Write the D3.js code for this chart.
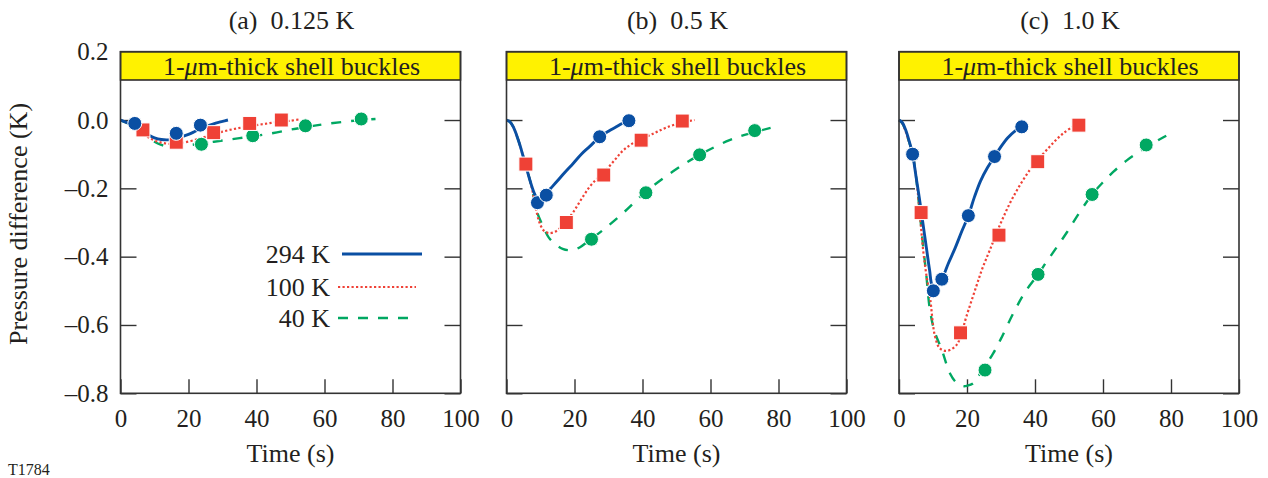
<!DOCTYPE html>
<html>
<head>
<meta charset="utf-8">
<script src="https://cdn.jsdelivr.net/npm/d3@7/dist/d3.min.js"></script>
<style>
  html, body { margin: 0; padding: 0; background: #fff; }
  svg { display: block; font-family: "Liberation Serif", "Times New Roman", serif; }
  text { fill: #231f20; }
</style>
</head>
<body>
<svg id="chart" width="1268" height="478"></svg>
<script>
// ---- Axis ticks and labels ----
const xTicks = [0, 20, 40, 60, 80, 100];
const yTicks = [0.2, 0.0, -0.2, -0.4, -0.6, -0.8];
const panelTitles = ["(a)  0.125 K", "(b)  0.5 K", "(c)  1.0 K"];
const seriesNames = ["294 K", "100 K", "40 K"];

// ---- (a) 0.125 K : model curves and measured points ----
const a294LineX = [0, 2, 4, 6, 8, 10, 12, 14, 16, 18, 20, 22, 24, 26, 28, 30, 31.6];
const a294LineY = [0, -0.008, -0.018, -0.03, -0.042, -0.052, -0.057, -0.058, -0.055, -0.049, -0.042, -0.033, -0.024, -0.016, -0.009, -0.004, 0.0];
const a294PtsX = [4.2, 16.4, 23.5];
const a294PtsY = [-0.01, -0.039, -0.015];

const a100LineX = [0, 3, 6, 9, 12, 15, 18, 22, 26, 30, 34, 38, 42, 46, 50, 52.7];
const a100LineY = [0, -0.014, -0.035, -0.055, -0.066, -0.07, -0.067, -0.058, -0.046, -0.034, -0.025, -0.018, -0.012, -0.006, -0.002, 0.002];
const a100PtsX = [6.6, 16.4, 27.4, 38, 47.3];
const a100PtsY = [-0.029, -0.065, -0.037, -0.01, 0.0];

const a40LineX = [0, 3, 6, 9, 12, 14, 17, 20, 25, 30, 35, 40, 45, 50, 55, 60, 65, 70, 75];
const a40LineY = [0, -0.014, -0.035, -0.058, -0.073, -0.078, -0.078, -0.074, -0.067, -0.06, -0.053, -0.046, -0.038, -0.028, -0.02, -0.012, -0.006, -0.001, 0.003];
const a40PtsX = [23.8, 38.9, 54.4, 70.8];
const a40PtsY = [-0.071, -0.046, -0.017, 0.003];

// ---- (b) 0.5 K ----
const b294LineX = [0, 1, 2, 3, 4, 5, 6, 7, 8, 8.8, 9.6, 11, 13, 15, 17, 19.6, 22, 24.5, 27.4, 30, 32.3, 34, 36];
const b294LineY = [0, -0.005, -0.02, -0.045, -0.075, -0.11, -0.145, -0.18, -0.21, -0.226, -0.232, -0.222, -0.2, -0.178, -0.155, -0.127, -0.1, -0.077, -0.05, -0.033, -0.02, -0.01, -0.002];
const b294PtsX = [9.1, 11.7, 27.4, 36];
const b294PtsY = [-0.242, -0.22, -0.049, -0.002];

const b100LineX = [0, 1, 2, 3, 4, 5, 6, 7, 8, 9, 9.8, 11, 12.5, 14.7, 17, 19.6, 22, 24.5, 27, 29.4, 32, 34.2, 37, 41.1, 44, 47, 51, 55.3];
const b100LineY = [0, -0.005, -0.02, -0.045, -0.075, -0.11, -0.145, -0.18, -0.225, -0.275, -0.303, -0.324, -0.331, -0.325, -0.303, -0.27, -0.232, -0.195, -0.168, -0.145, -0.115, -0.09, -0.069, -0.049, -0.036, -0.022, -0.009, 0];
const b100PtsX = [5.7, 17.6, 28.6, 39.6, 51.7];
const b100PtsY = [-0.129, -0.3, -0.161, -0.059, -0.003];

const b40LineX = [0, 1, 2, 3, 4, 5, 6, 7, 8, 9, 10.8, 12.5, 14.7, 16.5, 18.1, 20, 21.5, 24, 28.4, 34.2, 41, 48.9, 56.8, 65.6, 72, 79];
const b40LineY = [0, -0.005, -0.02, -0.045, -0.075, -0.11, -0.145, -0.18, -0.225, -0.27, -0.312, -0.345, -0.366, -0.377, -0.381, -0.379, -0.373, -0.355, -0.322, -0.273, -0.21, -0.151, -0.102, -0.059, -0.038, -0.02];
const b40PtsX = [25, 41, 56.8, 73];
const b40PtsY = [-0.349, -0.213, -0.102, -0.031];

// ---- (c) 1.0 K ----
const c294LineX = [0, 1, 2, 3, 4, 5, 6, 7, 8, 9, 9.8, 10.8, 12.6, 14.5, 16.5, 18.5, 20.4, 22.2, 24, 26, 28.1, 30, 32, 34, 36.1];
const c294LineY = [0, -0.008, -0.03, -0.062, -0.1, -0.165, -0.23, -0.3, -0.37, -0.44, -0.485, -0.49, -0.466, -0.42, -0.375, -0.325, -0.28, -0.225, -0.178, -0.14, -0.107, -0.078, -0.052, -0.033, -0.02];
const c294PtsX = [4, 10.1, 12.6, 20.4, 28.1, 36.1];
const c294PtsY = [-0.1, -0.5, -0.466, -0.28, -0.107, -0.02];

const c100LineX = [0, 1, 2, 3, 4, 5, 6, 7.1, 8, 9.1, 10.6, 12, 14, 16.9, 18.5, 19.8, 22.7, 24.5, 26.7, 30, 33.6, 38.5, 43.4, 48.3, 54.2];
const c100LineY = [0, -0.01, -0.035, -0.065, -0.1, -0.165, -0.26, -0.381, -0.45, -0.517, -0.634, -0.668, -0.676, -0.659, -0.62, -0.576, -0.488, -0.435, -0.381, -0.3, -0.225, -0.146, -0.088, -0.039, 0];
const c100PtsX = [6.5, 18.1, 29.4, 40.8, 52.9];
const c100PtsY = [-0.271, -0.623, -0.337, -0.122, -0.015];

const c40LineX = [0, 1, 2, 3, 4, 5, 6, 7, 8, 9.1, 10.5, 12.6, 15, 17, 18.9, 20, 21.8, 24, 27.7, 30, 33.6, 37, 40.9, 43.4, 46, 49.3, 53, 56.8, 60, 63, 67, 70.8, 75, 78.6];
const c40LineY = [0, -0.01, -0.035, -0.065, -0.1, -0.165, -0.26, -0.36, -0.45, -0.556, -0.62, -0.673, -0.742, -0.77, -0.779, -0.778, -0.771, -0.74, -0.683, -0.64, -0.566, -0.505, -0.452, -0.415, -0.378, -0.33, -0.272, -0.218, -0.182, -0.152, -0.118, -0.092, -0.066, -0.046];
const c40PtsX = [25.3, 40.9, 56.8, 72.7];
const c40PtsY = [-0.732, -0.452, -0.218, -0.073];

// ---- Series styling ----
const styles = [
  { color: "#0a4fa3", dash: null, width: 2.9, marker: "circle" },
  { color: "#ef4136", dash: "2.2,2.3", width: 2.2, marker: "square" },
  { color: "#00a862", dash: "10,10", width: 2.4, marker: "circle" }
];

const zip = (xs, ys) => xs.map((x, i) => ({ x, y: ys[i] }));

const panels = [
  { title: panelTitles[0], series: [
    { line: zip(a294LineX, a294LineY), pts: zip(a294PtsX, a294PtsY) },
    { line: zip(a100LineX, a100LineY), pts: zip(a100PtsX, a100PtsY) },
    { line: zip(a40LineX, a40LineY), pts: zip(a40PtsX, a40PtsY) } ] },
  { title: panelTitles[1], series: [
    { line: zip(b294LineX, b294LineY), pts: zip(b294PtsX, b294PtsY) },
    { line: zip(b100LineX, b100LineY), pts: zip(b100PtsX, b100PtsY) },
    { line: zip(b40LineX, b40LineY), pts: zip(b40PtsX, b40PtsY) } ] },
  { title: panelTitles[2], series: [
    { line: zip(c294LineX, c294LineY), pts: zip(c294PtsX, c294PtsY) },
    { line: zip(c100LineX, c100LineY), pts: zip(c100PtsX, c100PtsY) },
    { line: zip(c40LineX, c40LineY), pts: zip(c40PtsX, c40PtsY) } ] }
];

// ---- Layout ----
const svg = d3.select("#chart");
const panelLefts = [120.5, 506.5, 899];
const panelW = 340;
const plotTop = 51.7, plotBottom = 393.3;
const bannerH = 28.3;

const y = d3.scaleLinear().domain([-0.8, 0.2]).range([plotBottom, plotTop]);
const fmtY = v => (v < 0 ? "\u2013" : "") + Math.abs(v).toFixed(1);

panels.forEach((p, pi) => {
  const left = panelLefts[pi];
  const x = d3.scaleLinear().domain([0, 100]).range([left, left + panelW]);
  const g = svg.append("g");

  // Panel title
  g.append("text")
    .attr("x", left + panelW / 2 + 1).attr("y", 29)
    .attr("text-anchor", "middle")
    .style("font-size", "26px").style("white-space", "pre")
    .text(p.title);

  // Bottom axis (ticks point inward)
  const xAxis = g.append("g")
    .attr("transform", `translate(0,${plotBottom})`)
    .call(d3.axisBottom(x).tickValues(xTicks).tickSizeInner(-14).tickSizeOuter(0).tickPadding(15.5));
  xAxis.select(".domain").remove();
  xAxis.selectAll("line").attr("stroke", "#333").attr("stroke-width", 1.4);
  xAxis.selectAll("text").style("font-size", "25px").style("font-family", "Liberation Serif").attr("fill", "#231f20");

  // Left axis (labels only on first panel)
  const yLeft = g.append("g")
    .attr("transform", `translate(${left},0)`)
    .call(d3.axisLeft(y).tickValues(yTicks).tickSizeInner(-16).tickSizeOuter(0).tickPadding(12)
      .tickFormat(pi === 0 ? fmtY : () => ""));
  yLeft.select(".domain").remove();
  yLeft.selectAll("line").attr("stroke", "#333").attr("stroke-width", 1.4);
  yLeft.selectAll("text").style("font-size", "25px").style("font-family", "Liberation Serif").attr("fill", "#231f20");

  // Right axis ticks
  const yRight = g.append("g")
    .attr("transform", `translate(${left + panelW},0)`)
    .call(d3.axisRight(y).tickValues(yTicks).tickSizeInner(-16).tickSizeOuter(0).tickFormat(() => ""));
  yRight.select(".domain").remove();
  yRight.selectAll("line").attr("stroke", "#333").attr("stroke-width", 1.4);

  // Curves
  const lineGen = d3.line().x(d => x(d.x)).y(d => y(d.y)).curve(d3.curveCatmullRom.alpha(0.5));
  // draw 40 K first, 294 K on top
  [2, 1, 0].forEach(si => {
    const s = p.series[si], st = styles[si];
    g.append("path")
      .datum(s.line)
      .attr("d", lineGen)
      .attr("fill", "none")
      .attr("stroke", st.color)
      .attr("stroke-width", st.width)
      .attr("stroke-dasharray", st.dash)
      .attr("stroke-linejoin", "round");
  });

  // Measured points
  [2, 1, 0].forEach(si => {
    const s = p.series[si], st = styles[si];
    if (st.marker === "circle") {
      g.selectAll(null).data(s.pts).enter().append("circle")
        .attr("cx", d => x(d.x)).attr("cy", d => y(d.y)).attr("r", 7)
        .attr("fill", st.color).attr("stroke", "#fff").attr("stroke-width", 1);
    } else {
      g.selectAll(null).data(s.pts).enter().append("rect")
        .attr("x", d => x(d.x) - 7).attr("y", d => y(d.y) - 7)
        .attr("width", 14).attr("height", 14)
        .attr("fill", st.color).attr("stroke", "#fff").attr("stroke-width", 1);
    }
  });

  // Banner
  g.append("rect")
    .attr("x", left).attr("y", plotTop)
    .attr("width", panelW).attr("height", bannerH)
    .attr("fill", "#fff200").attr("stroke", "#231f20").attr("stroke-width", 1.5);
  const bt = g.append("text")
    .attr("x", left + panelW / 2 + 1).attr("y", 74.5)
    .attr("text-anchor", "middle")
    .style("font-size", "26px");
  bt.append("tspan").text("1-");
  bt.append("tspan").style("font-style", "italic").text("\u03bc");
  bt.append("tspan").text("m-thick shell buckles");

  // Frame
  g.append("rect")
    .attr("x", left).attr("y", plotTop)
    .attr("width", panelW).attr("height", plotBottom - plotTop)
    .attr("fill", "none").attr("stroke", "#333").attr("stroke-width", 1.6);

  // X axis title
  g.append("text")
    .attr("x", left + panelW / 2).attr("y", 461.7)
    .attr("text-anchor", "middle")
    .style("font-size", "26px")
    .text("Time (s)");
});

// Y axis title
svg.append("text")
  .attr("transform", "translate(27,224) rotate(-90)")
  .attr("text-anchor", "middle")
  .style("font-size", "26px")
  .text("Pressure difference (K)");

// Legend inside panel (a)
const legendY = [254, 287, 318];
const legendX0 = [342, 338, 338];
const legendX1 = [422, 416, 413];
const legend = svg.append("g");
seriesNames.forEach((name, i) => {
  const st = styles[i];
  legend.append("line")
    .attr("x1", legendX0[i]).attr("x2", legendX1[i])
    .attr("y1", legendY[i]).attr("y2", legendY[i])
    .attr("stroke", st.color).attr("stroke-width", st.width)
    .attr("stroke-dasharray", st.dash);
  legend.append("text")
    .attr("x", 330).attr("y", legendY[i]).attr("dy", "0.35em")
    .attr("text-anchor", "end")
    .style("font-size", "26px")
    .text(name);
});

// Figure tag
svg.append("text")
  .attr("x", 8).attr("y", 475)
  .style("font-size", "16px")
  .text("T1784");
</script>
</body>
</html>
